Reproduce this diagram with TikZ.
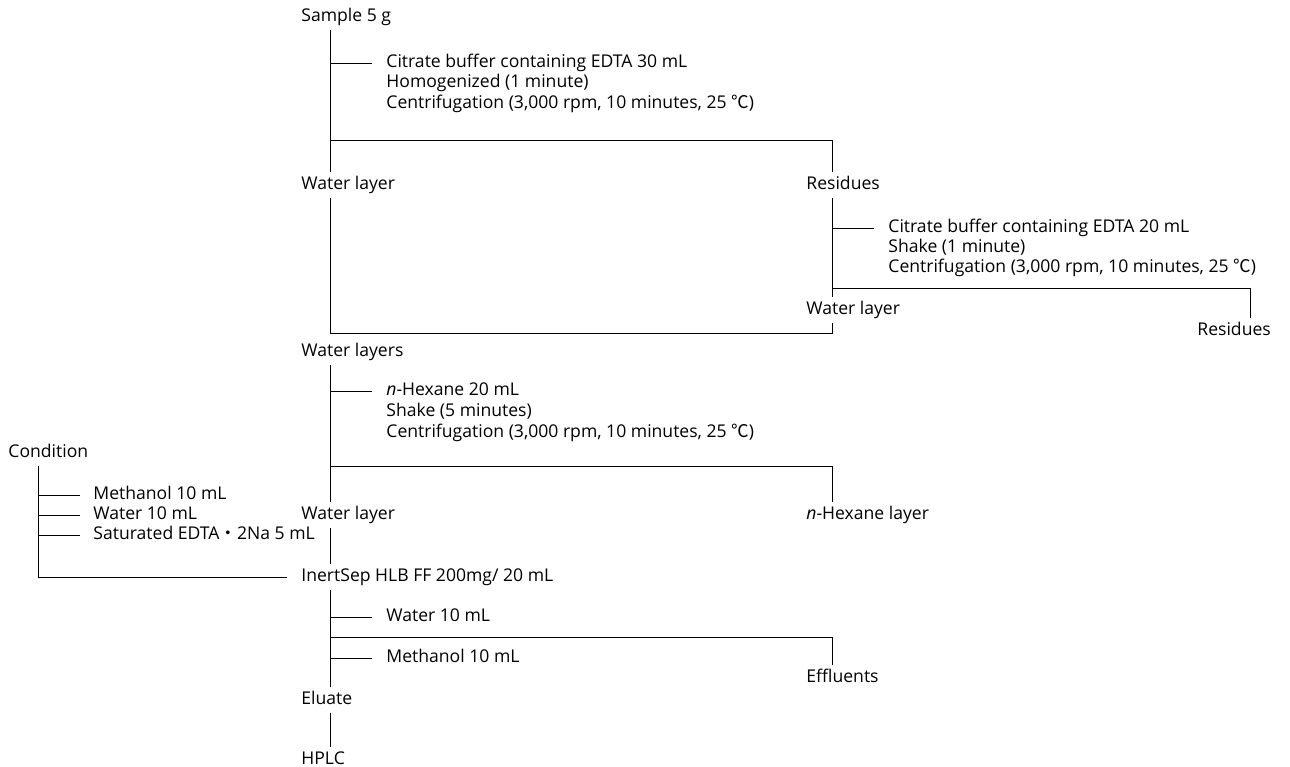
\documentclass[tikz,border=0pt]{standalone}
\usepackage{fontspec}
\setmainfont{Open Sans}
\newfontfamily\cjk{Noto Sans CJK JP}
\usepackage{tikz}
\usetikzlibrary{positioning}

\begin{document}
\begin{tikzpicture}[x=0.025cm, y=-0.025cm, line width=0.6pt,
	lbl/.style={anchor=west, inner xsep=0pt, inner ysep=3.5pt, text height=9pt, text depth=2.5pt, font=\fontsize{12.5}{15}\selectfont}]
	% Define tick length
	\def \tick {42}
	% Fix margins
	\useasboundingbox (0,0) rectangle (1290,767);
	% Spine positions
	\coordinate (s1) at (330,0);
	\coordinate (s2) at (832,0);
	\coordinate (s3) at (1250,0);
	\coordinate (s4) at (38,0);
	% Junctions
	\coordinate (j1) at (330,140);
	\coordinate (j2) at (832,288);
	\coordinate (j3) at (330,333);
	\coordinate (j4) at (330,466);
	\coordinate (j5) at (330,637);
	% Draw nodes
	\node[lbl] (sample) at (301,17) {Sample 5 g};
	\node[lbl] (a1) at (386,63) {Citrate buffer containing EDTA 30 mL};
	\node[lbl] (a2) at (386,83) {Homogenized (1 minute)};
	\node[lbl] (a3) at (386,104) {Centrifugation (3,000 rpm, 10 minutes, 25 {\cjk ℃})};
	\node[lbl] (water1) at (301,185) {Water layer};
	\node[lbl] (res1) at (806,185) {Residues};
	\node[lbl] (b1) at (888,228) {Citrate buffer containing EDTA 20 mL};
	\node[lbl] (b2) at (888,248) {Shake (1 minute)};
	\node[lbl] (b3) at (888,268) {Centrifugation (3,000 rpm, 10 minutes, 25 {\cjk ℃})};
	\node[lbl] (water2) at (806,310) {Water layer};
	\node[lbl] (res2) at (1197,331) {Residues};
	\node[lbl] (water3) at (301,352) {Water layers};
	\node[lbl] (c1) at (386,391) {\textit{n}-Hexane 20 mL};
	\node[lbl] (c2) at (386,412) {Shake (5 minutes)};
	\node[lbl] (c3) at (386,433) {Centrifugation (3,000 rpm, 10 minutes, 25 {\cjk ℃})};
	\node[lbl] (water4) at (301,515) {Water layer};
	\node[lbl] (hex) at (806,515) {\textit{n}-Hexane layer};
	\node[lbl] (cond) at (8,453) {Condition};
	\node[lbl] (d1) at (93,495) {Methanol 10 mL};
	\node[lbl] (d2) at (93,515) {Water 10 mL};
	\node[lbl] (d3) at (93,535) {Saturated EDTA{\cjk ・}2Na 5 mL};
	\node[lbl] (inert) at (301,577) {InertSep HLB FF 200mg/ 20 mL};
	\node[lbl] (e1) at (386,617) {Water 10 mL};
	\node[lbl] (e2) at (386,658) {Methanol 10 mL};
	\node[lbl] (eff) at (806,678) {Effluents};
	\node[lbl] (eluate) at (301,700) {Eluate};
	\node[lbl] (hplc) at (301,760) {HPLC};
	% Draw main spine
	\draw (sample.south -| s1) -- (water1.north -| s1);
	\draw (water1.south -| s1) -- (j3);
	\draw (water3.south -| s1) -- (water4.north -| s1);
	\draw (water4.south -| s1) -- (inert.north -| s1);
	\draw (inert.south -| s1) -- (eluate.north -| s1);
	\draw (eluate.south -| s1) -- (hplc.north -| s1);
	% Draw side spines
	\draw (res1.south -| s2) -- (water2.north -| s2);
	\draw (water2.south -| s2) |- (j3);
	\draw (cond.south -| s4) |- ([xshift=-0.35cm]inert.west);
	% Draw branches
	\draw (j1) -| (res1.north -| s2);
	\draw (j2) -| (res2.north -| s3);
	\draw (j4) -| (hex.north -| s2);
	\draw (j5) -| (eff.north -| s2);
	% Draw ticks
	\draw (a1.west -| s1) -- ++(\tick,0);
	\draw (b1.west -| s2) -- ++(\tick,0);
	\draw (c1.west -| s1) -- ++(\tick,0);
	\draw (d1.west -| s4) -- ++(\tick,0);
	\draw (d2.west -| s4) -- ++(\tick,0);
	\draw (d3.west -| s4) -- ++(\tick,0);
	\draw (e1.west -| s1) -- ++(\tick,0);
	\draw (e2.west -| s1) -- ++(\tick,0);
\end{tikzpicture}
\end{document}
